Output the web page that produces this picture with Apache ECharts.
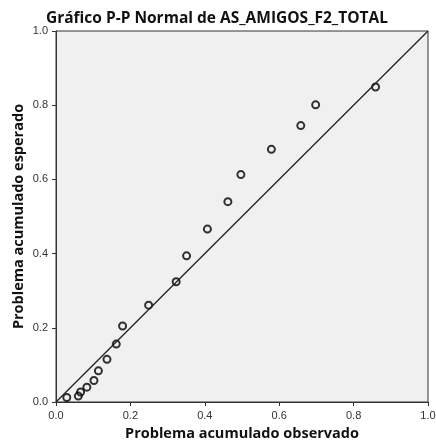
<!DOCTYPE html>
<html>
<head>
<meta charset="utf-8">
<script src="https://cdn.jsdelivr.net/npm/echarts@6/dist/echarts.min.js"></script>
<style>
  html, body { margin: 0; padding: 0; background: #fff; }
  #chart { width: 436px; height: 443px; }
</style>
</head>
<body>
<div id="chart"></div>
<script>
// Observed cumulative probability for each case
var observed = [0.029, 0.060, 0.066, 0.083, 0.102, 0.114, 0.137, 0.162, 0.179, 0.249,
                0.323, 0.351, 0.407, 0.462, 0.497, 0.579, 0.658, 0.698, 0.859];
// Expected cumulative probability under the normal distribution
var expected = [0.012, 0.016, 0.027, 0.040, 0.058, 0.084, 0.115, 0.156, 0.205, 0.261,
                0.324, 0.394, 0.466, 0.540, 0.613, 0.681, 0.745, 0.801, 0.849];
// Reference diagonal
var diagonal = [[0, 0], [1, 1]];
var tickLabels = ['0.0', '0.2', '0.4', '0.6', '0.8', '1.0'];

var points = observed.map(function (o, i) { return [o, expected[i]]; });

var tickFmt = function (v) { return tickLabels[Math.round(v / 0.2)]; };
var axisCommon = {
  type: 'value', min: 0, max: 1, interval: 0.2,
  splitLine: { show: false },
  axisLine: { show: true, lineStyle: { color: '#333', width: 1 } },
  axisTick: { show: true, length: 4, lineStyle: { color: '#333' } },
  axisLabel: { color: '#333', fontSize: 11, fontFamily: 'Liberation Sans', formatter: tickFmt },
  nameLocation: 'middle',
  nameMoveOverlap: false,
  nameTextStyle: { color: '#111', fontSize: 14.5, fontWeight: 'bold', fontFamily: 'Open Sans' }
};

var chart = echarts.init(document.getElementById('chart'));
chart.setOption({
  animation: false,
  backgroundColor: '#fff',
  title: {
    text: 'Gráfico P-P Normal de AS_AMIGOS_F2_TOTAL',
    left: 41, top: 6,
    textStyle: { color: '#111', fontSize: 15.5, fontWeight: 'bold', fontFamily: 'Open Sans' }
  },
  grid: {
    left: 56, right: 8, top: 31, bottom: 41,
    outerBoundsMode: 'none', containLabel: false,
    show: true, backgroundColor: '#f0f0f0', borderColor: '#333', borderWidth: 1
  },
  xAxis: Object.assign({}, axisCommon, { name: 'Problema acumulado observado', nameGap: 24 }),
  yAxis: Object.assign({}, axisCommon, { name: 'Problema acumulado esperado', nameGap: 30 }),
  series: [
    {
      type: 'line', data: diagonal, showSymbol: false, silent: true,
      lineStyle: { color: '#222', width: 1.3 }
    },
    {
      type: 'scatter', data: points, symbol: 'circle', symbolSize: 7,
      itemStyle: { color: 'transparent', borderColor: '#000', borderWidth: 2 }
    }
  ]
});
</script>
</body>
</html>
